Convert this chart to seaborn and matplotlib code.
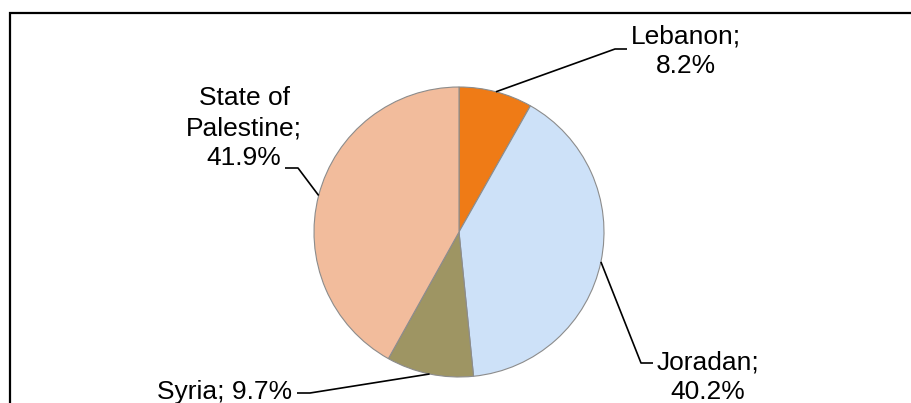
import numpy as np
import matplotlib
matplotlib.use('Agg')
import matplotlib.pyplot as plt
import seaborn as sns
from matplotlib.patches import Rectangle

# ---- data ----
countries = ['Lebanon', 'Joradan', 'Syria', 'State of\nPalestine']
shares = [8.2, 40.2, 9.7, 41.9]
separators = ['\n', '\n', ' ', '\n']
colors = ['#EF7B16', '#CDE1F8', '#9E9563', '#F2BC9C']

sns.set_style('white')
plt.rcParams['font.family'] = ['Liberation Sans', 'DejaVu Sans']

W, H = 912, 403
fig = plt.figure(figsize=(W / 100, H / 100), dpi=100)
cx, cy, R = 459, 232, 145
ax = fig.add_axes([(cx - R) / W, (H - cy - R) / H, 2 * R / W, 2 * R / H])
wedges, _ = ax.pie(shares, colors=colors, startangle=90, counterclock=False,
                   radius=1, wedgeprops=dict(edgecolor='#8c8c8c', linewidth=0.8))
ax.set_xlim(-1, 1)
ax.set_ylim(-1, 1)
ax.set_aspect('equal')
ax.axis('off')


def d(px, py):
    return ((px - cx) / R, (cy - py) / R)


# label layout in pixels
elbows = [(615, 49), (641, 363), (310, 393), (298, 168)]
ends = [(627, 49), (653, 363), (297, 393), (285, 168)]
text_pos = [(686, 51), (708, 377), (225, 392), (244, 128)]

for w, name, val, sep, el, en, tp in zip(wedges, countries, shares, separators,
                                         elbows, ends, text_pos):
    th = np.deg2rad((w.theta1 + w.theta2) / 2)
    ex, ey = np.cos(th), np.sin(th)
    e1 = d(*el)
    e2 = d(*en)
    ax.plot([ex, e1[0], e2[0]], [ey, e1[1], e2[1]], color='black', lw=1.2,
            clip_on=False, solid_capstyle='butt')
    tx, ty = d(*tp)
    ax.text(tx, ty, f"{name};{sep}{val}%", ha='center', va='center',
            multialignment='center', fontsize=19, linespacing=1.3,
            color='black', clip_on=False)

fig.add_artist(Rectangle((10 / W, -0.05), 1.0, (H - 13) / H + 0.05,
                         transform=fig.transFigure, fill=False,
                         ec='black', lw=1.6))

fig.savefig('out.png', dpi=100)
